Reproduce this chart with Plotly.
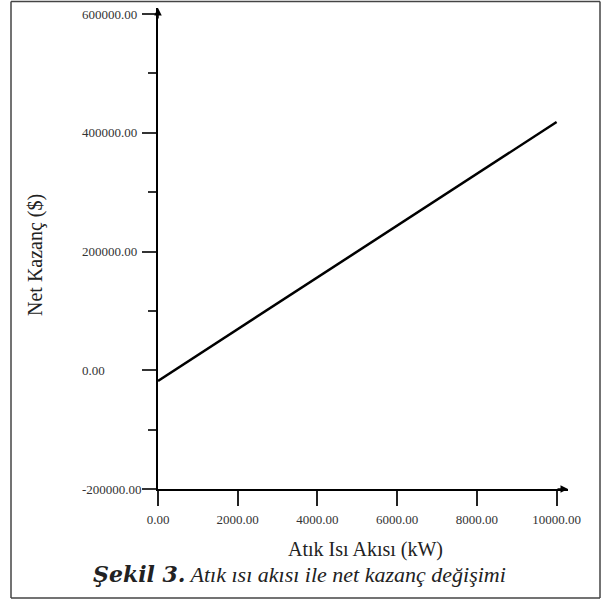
import plotly.graph_objects as go

# Data
heat_flow_kw = [0, 10000]
net_gain_usd = [-18000, 418000]

x_tick_vals = [0, 2000, 4000, 6000, 8000, 10000]
x_tick_text = ["0.00", "2000.00", "4000.00", "6000.00", "8000.00", "10000.00"]
y_tick_vals = [-200000, 0, 200000, 400000, 600000]
y_tick_text = ["-200000.00", "0.00", "200000.00", "400000.00", "600000.00"]

x_title = "Atık Isı Akısı (kW)"
y_title = "Net Kazanç ($)"
caption_bold = "Şekil 3."
caption_rest = " Atık ısı akısı ile net kazanç değişimi"

W, H = 603, 600
L, R, T, B = 158, 35, 8, 111
pw, ph = W - L - R, H - T - B

def px_x(p):
    return (p - L) / pw

def px_y(p):
    return (H - B - p) / ph

FONT = "Liberation Serif, Times New Roman, serif"
BOLD_FONT = "DejaVu Serif"

caption = (f"<span style='font-family:{BOLD_FONT};font-size:22px'><b><i>{caption_bold}</i></b></span>"
           f"<i>{caption_rest}</i>")

fig = go.Figure()
fig.add_trace(go.Scatter(
    x=heat_flow_kw, y=net_gain_usd, mode="lines",
    line=dict(color="black", width=2.5), showlegend=False, hoverinfo="skip"))

fig.update_layout(
    width=W, height=H,
    margin=dict(l=L, r=R, t=T, b=B),
    paper_bgcolor="white", plot_bgcolor="white",
    font=dict(family=FONT, size=13, color="#333"),
    showlegend=False,
)

fig.update_xaxes(
    range=[0, 10286], showgrid=False, zeroline=False,
    showline=True, linecolor="black", linewidth=1.5,
    ticks="outside", ticklen=15, tickwidth=1.5, tickcolor="#222",
    tickvals=x_tick_vals, ticktext=x_tick_text, ticklabelstandoff=3,
    tickfont=dict(family=FONT, size=13, color="#333"),
)
fig.update_yaxes(
    range=[-200000, 610105], showgrid=False, zeroline=False,
    showline=True, linecolor="black", linewidth=1.5,
    ticks="outside", ticklen=14, tickwidth=1.5, tickcolor="#333",
    tickvals=y_tick_vals, showticklabels=False,
    minor=dict(ticks="outside", ticklen=8, tickwidth=1.5, tickcolor="#333",
               dtick=100000, tick0=-200000, showgrid=False),
)

annotations = []
for v, t in zip(y_tick_vals, y_tick_text):
    annotations.append(dict(
        x=px_x(80), xref="paper", y=v, yref="y", text=t, showarrow=False,
        xanchor="left", yanchor="middle",
        font=dict(family=FONT, size=13, color="#333")))

# axis arrows
annotations.append(dict(x=0, y=1, xref="paper", yref="paper", text="",
                        showarrow=True, ax=0, ay=12, arrowhead=2, arrowsize=1,
                        arrowwidth=1.5, arrowcolor="black", standoff=0))
annotations.append(dict(x=1, y=0, xref="paper", yref="paper", text="",
                        showarrow=True, ax=-12, ay=0, arrowhead=2, arrowsize=1,
                        arrowwidth=1.5, arrowcolor="black", standoff=0))

annotations.append(dict(x=px_x(365), y=px_y(549), xref="paper", yref="paper",
                        text=x_title, showarrow=False, xanchor="center", yanchor="middle",
                        font=dict(family=FONT, size=20, color="#222")))
annotations.append(dict(x=px_x(35), y=px_y(255), xref="paper", yref="paper",
                        text=y_title, showarrow=False, textangle=-90,
                        xanchor="center", yanchor="middle",
                        font=dict(family=FONT, size=20, color="#222")))
annotations.append(dict(x=px_x(299), y=px_y(574), xref="paper", yref="paper",
                        text=caption, showarrow=False, xanchor="center", yanchor="middle",
                        font=dict(family=FONT, size=22, color="#222")))

fig.update_layout(annotations=annotations)

# outer frame
frame_line = dict(color="#444", width=1.5)
fx0, fx1, fy0, fy1 = px_x(11), px_x(600), px_y(598), px_y(1.5)
for (xa, ya, xb, yb) in [(fx0, fy0, fx1, fy0), (fx0, fy1, fx1, fy1),
                         (fx0, fy0, fx0, fy1), (fx1, fy0, fx1, fy1)]:
    fig.add_shape(type="line", xref="paper", yref="paper",
                  x0=xa, y0=ya, x1=xb, y1=yb, line=frame_line)

fig.write_html("out.html", config={"displayModeBar": False},
               post_script="document.body.style.margin='0';document.body.style.overflow='hidden';")
